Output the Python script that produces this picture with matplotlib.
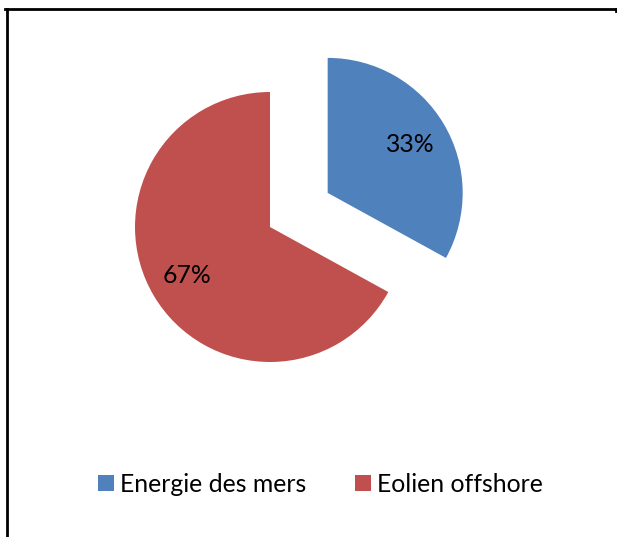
import matplotlib.pyplot as plt
from matplotlib.lines import Line2D
from matplotlib.patches import Patch

labels = ['Energie des mers', 'Eolien offshore']
shares = [33, 67]
colors = ['#4F81BD', '#C0504D']

W, H = 617, 537
fig = plt.figure(figsize=(W / 100, H / 100), dpi=100)
ax = fig.add_axes([0, 0, 1, 1])

font = 'Lato'
fsize = 17.8

wedges, texts, autotexts = ax.pie(
    shares, colors=colors, startangle=90, counterclock=False,
    center=(270, H - 227), radius=135, explode=[67, 0],
    autopct='%1.0f%%', pctdistance=0.71, frame=True,
    wedgeprops=dict(linewidth=0),
    textprops=dict(fontsize=fsize, family=font, color='black'))
ax.set_xlim(0, W)
ax.set_ylim(0, H)
ax.set_aspect('equal')
ax.axis('off')

handles = [Patch(facecolor=c, edgecolor='none') for c in colors]
fig.legend(handles, labels, loc='center', bbox_to_anchor=(320.5 / W, 1 - 484 / H),
           ncol=2, frameon=False, prop=dict(family=font, size=fsize),
           handlelength=0.62, handleheight=0.62, handletextpad=0.25,
           columnspacing=2.0, borderpad=0)

# partial frame: top and left edges
lw = 2
fig.add_artist(Line2D([5 / W, 616 / W], [1 - 8.5 / H] * 2, color='black', lw=lw,
                      transform=fig.transFigure))
fig.add_artist(Line2D([7 / W] * 2, [1 - 9 / H, 0], color='black', lw=lw,
                      transform=fig.transFigure))
fig.add_artist(Line2D([615.5 / W] * 2, [1 - 8.5 / H, 1 - 11 / H], color='black', lw=lw,
                      transform=fig.transFigure))

fig.savefig('out.png', dpi=100)
